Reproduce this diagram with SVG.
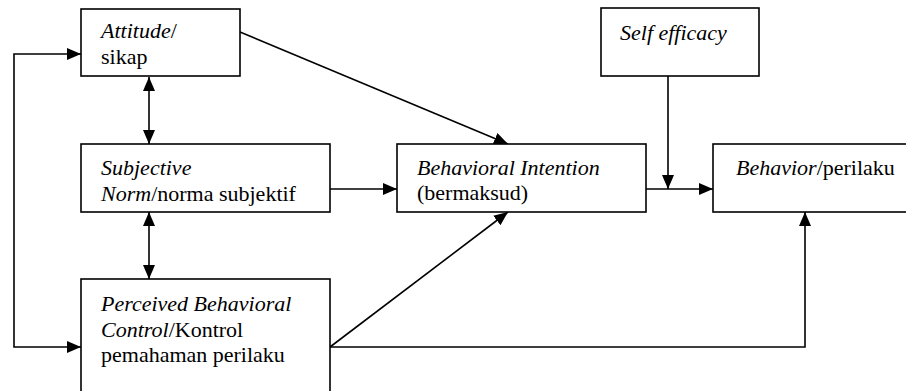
<svg xmlns="http://www.w3.org/2000/svg" width="906" height="391" viewBox="0 0 906 391" font-family="Liberation Serif, Times New Roman, serif">
<style>
.box{fill:#fff;stroke:#000;stroke-width:1.6}
text{font-family:'Liberation Serif','Times New Roman',serif;font-size:22px;fill:#000}
.i{font-style:italic}
.c{fill:none;stroke:#000;stroke-width:1.6}
</style>
<defs>
<marker id="ah" viewBox="0 0 14 12" refX="14" refY="6" markerWidth="14" markerHeight="12" markerUnits="userSpaceOnUse" orient="auto-start-reverse">
<path d="M0,0 L14,6 L0,12 Z" fill="#000"/>
</marker>
</defs>
<rect width="906" height="391" fill="#fff"/>
<g id="connectors">
<path class="c" d="M81,54 H14 V347 H81" marker-start="url(#ah)" marker-end="url(#ah)"/>
<line class="c" x1="149" y1="77" x2="149" y2="144" marker-start="url(#ah)" marker-end="url(#ah)"/>
<line class="c" x1="149" y1="212" x2="149" y2="279" marker-start="url(#ah)" marker-end="url(#ah)"/>
<line class="c" x1="240" y1="32" x2="508" y2="144" marker-end="url(#ah)"/>
<line class="c" x1="330" y1="189" x2="397" y2="189" marker-end="url(#ah)"/>
<line class="c" x1="330" y1="347" x2="508" y2="212" marker-end="url(#ah)"/>
<path class="c" d="M330,347 H805 V212" marker-end="url(#ah)"/>
<line class="c" x1="646" y1="189" x2="713" y2="189" marker-end="url(#ah)"/>
<line class="c" x1="668" y1="76" x2="668" y2="189" marker-end="url(#ah)"/>
</g>
<g id="attitude">
<rect class="box" x="81" y="9" width="159" height="67"/>
<text x="101" y="38"><tspan class="i">Attitude</tspan>/</text>
<text x="101" y="64">sikap</text>
</g>
<g id="subjective-norm">
<rect class="box" x="81" y="144" width="249" height="68"/>
<text class="i" x="101" y="175">Subjective</text>
<text x="101" y="201"><tspan class="i">Norm</tspan>/norma subjektif</text>
</g>
<g id="perceived-behavioral-control">
<rect class="box" x="81" y="279" width="249" height="130"/>
<text class="i" x="101" y="311">Perceived Behavioral</text>
<text x="101" y="337"><tspan class="i">Control</tspan>/Kontrol</text>
<text x="101" y="362">pemahaman perilaku</text>
</g>
<g id="behavioral-intention">
<rect class="box" x="397" y="144" width="249" height="68"/>
<text class="i" x="417" y="175">Behavioral Intention</text>
<text x="417" y="200">(bermaksud)</text>
</g>
<g id="self-efficacy">
<rect class="box" x="601" y="8" width="158" height="68"/>
<text class="i" x="620" y="40">Self efficacy</text>
</g>
<g id="behavior">
<rect class="box" x="713" y="144" width="200" height="68"/>
<text x="736" y="175"><tspan class="i">Behavior</tspan>/perilaku</text>
</g>
</svg>
